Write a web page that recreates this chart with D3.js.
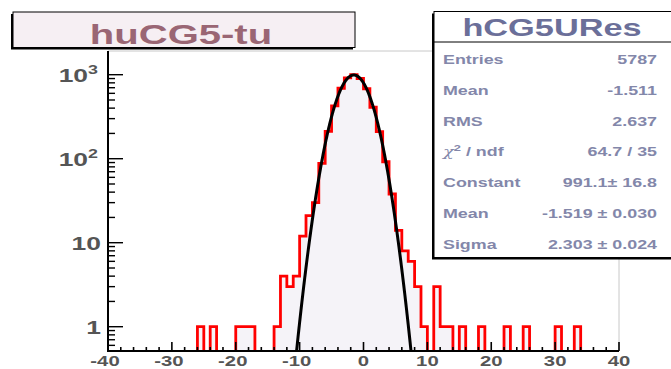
<!DOCTYPE html>
<html>
<head>
<meta charset="utf-8">
<script src="https://d3js.org/d3.v7.min.js"></script>
<style>
  body { margin: 0; background: #fff; }
  svg { display: block; font-family: "Liberation Sans", Arial, sans-serif; font-weight: bold; }
</style>
</head>
<body>
<div id="chart"></div>
<script>
// histogram: 80 bins of width 1 from -40 to 40
const xRange = [-40, 40];
const counts = [
  0, 0, 0, 0, 0, 0, 0, 0, 0, 0,      // -40 .. -31
  0, 0, 0, 0, 1, 0, 1, 0, 0, 0,      // -30 .. -21
  1, 1, 1, 0, 0, 0, 1, 4, 3, 4,      // -20 .. -11
  12, 21, 30, 88, 212, 425, 690, 918, 1000, 901,   // -10 .. -1
  680, 410, 210, 92, 38, 14, 8, 6, 3, 1,           //   0 .. 9
  0, 3, 1, 1, 0, 1, 0, 0, 1, 0,      //  10 .. 19
  0, 0, 1, 0, 0, 1, 0, 0, 0, 0,      //  20 .. 29
  1, 0, 0, 1, 0, 0, 0, 0, 0, 0       //  30 .. 39
];
// gaussian fit: constant, mean, sigma
const fitParams = [991.1, -1.519, 2.303];

const xTicks = [-40, -30, -20, -10, 0, 10, 20, 30, 40];
const yLabels = [[1000, "10", "3"], [100, "10", "2"], [10, "10", ""], [1, "1", ""]];

const statsTitle = "hCG5URes";
const statLabels = ["Entries", "Mean", "RMS", "chi2", "Constant", "Mean", "Sigma"];
const statValues = ["5787", "-1.511", "2.637", "64.7 / 35", "991.1\u00b1 16.8", "-1.519 \u00b1 0.030", "2.303 \u00b1 0.024"];
const histTitle = "huCG5-tu";

const W = 671, H = 369;
const SX = 1.43; // text in the picture is stretched horizontally
const frame = { left: 108, right: 619, top: 51, bottom: 351 };

const svg = d3.select("#chart").append("svg")
  .attr("width", W).attr("height", H);

const x = d3.scaleLinear().domain(xRange).range([frame.left, frame.right]);
const y = d3.scaleLog().domain([0.514, 1915]).range([frame.bottom, frame.top]);

svg.append("clipPath").attr("id", "clip")
  .append("rect")
  .attr("x", frame.left).attr("y", frame.top)
  .attr("width", frame.right - frame.left).attr("height", frame.bottom - frame.top);

// frame (light grey top / right)
svg.append("path")
  .attr("d", `M${frame.left},${frame.top}H${frame.right}V${frame.bottom}`)
  .attr("fill", "none").attr("stroke", "#c8c8c8").attr("stroke-width", 1);

// histogram step outline
const yb = frame.bottom + 2;
const yv = c => c > 0 ? y(c) : yb;
let d = `M${x(xRange[0])},${yb}`;
counts.forEach((c, i) => {
  const lo = xRange[0] + i, hi = lo + 1;
  d += `L${x(lo)},${yv(c)}L${x(hi)},${yv(c)}`;
});
d += `L${x(xRange[1])},${yb}`;

const g = svg.append("g").attr("clip-path", "url(#clip)");
g.append("path").attr("d", d + "Z").attr("fill", "#f5f3f8").attr("stroke", "none");
g.append("path").attr("d", d).attr("fill", "none")
  .attr("stroke", "#ff0000").attr("stroke-width", 2.8).attr("stroke-linejoin", "miter");

// fit curve
const [C, mu, sig] = fitParams;
const gauss = v => C * Math.exp(-((v - mu) * (v - mu)) / (2 * sig * sig));
const fx = d3.range(-14, 11.001, 0.05);
const line = d3.line()
  .x(v => x(v))
  .y(v => Math.min(yb + 5, y(Math.max(gauss(v), 0.3))));
g.append("path").datum(fx).attr("d", line)
  .attr("fill", "none").attr("stroke", "#000").attr("stroke-width", 3);

// axes
svg.append("line")
  .attr("x1", frame.left).attr("x2", frame.left)
  .attr("y1", frame.top).attr("y2", frame.bottom + 1)
  .attr("stroke", "#000").attr("stroke-width", 2);
svg.append("line")
  .attr("x1", frame.left - 1).attr("x2", frame.right)
  .attr("y1", frame.bottom).attr("y2", frame.bottom)
  .attr("stroke", "#000").attr("stroke-width", 2.2);

// y ticks
const yt = y.ticks().filter(t => t >= y.domain()[0] && t <= y.domain()[1]);
svg.append("g").selectAll("line").data(yt).join("line")
  .attr("x1", frame.left)
  .attr("x2", t => frame.left + (Math.abs(Math.log10(t) % 1) < 1e-9 ? 15 : 7))
  .attr("y1", t => y(t)).attr("y2", t => y(t))
  .attr("stroke", "#000").attr("stroke-width", 1.4);

// x ticks every 2, major every 10
const xt = d3.range(xRange[0], xRange[1] + 1, 2);
svg.append("g").selectAll("line").data(xt).join("line")
  .attr("x1", v => x(v)).attr("x2", v => x(v))
  .attr("y1", frame.bottom)
  .attr("y2", v => frame.bottom - (v % 10 === 0 ? 9 : 4))
  .attr("stroke", "#000").attr("stroke-width", 1.6);

// y labels
const yl = svg.append("g").attr("fill", "#555");
yLabels.forEach(([v, base, sup]) => {
  const t = yl.append("text")
    .attr("transform", `translate(${sup ? 98 : 101},${y(v) + 7}) scale(${SX},1)`)
    .attr("text-anchor", "end").attr("font-size", 18.5);
  t.append("tspan").text(base);
  if (sup) t.append("tspan").attr("dy", -8).attr("font-size", 12.5).text(sup);
});

// x labels
svg.append("g").attr("fill", "#555").selectAll("text").data(xTicks).join("text")
  .attr("transform", v => `translate(${x(v) - (v < 0 ? 3 : 0)},366) scale(1.4,1)`)
  .attr("text-anchor", "middle").attr("font-size", 14.5)
  .text(v => v);

// title box
svg.append("rect").attr("x", 11).attr("y", 14).attr("width", 342).attr("height", 35.5).attr("fill", "#000");
svg.append("rect").attr("x", 13).attr("y", 12).attr("width", 342).attr("height", 35.5)
  .attr("fill", "#f6eff3").attr("stroke", "#000").attr("stroke-width", 1);
svg.append("text")
  .attr("transform", `translate(181,43.5) scale(${SX},1)`)
  .attr("text-anchor", "middle").attr("font-size", 28).attr("fill", "#9a6674")
  .text(histTitle);

// stats box
const sb = { x: 434, y: 11.5, w: 250, h: 246 };
svg.append("rect").attr("x", sb.x - 2).attr("y", sb.y + 2).attr("width", sb.w).attr("height", sb.h).attr("fill", "#000");
svg.append("rect").attr("x", sb.x).attr("y", sb.y).attr("width", sb.w).attr("height", sb.h)
  .attr("fill", "#fff").attr("stroke", "#000").attr("stroke-width", 1);
svg.append("line").attr("x1", sb.x).attr("x2", W).attr("y1", 42).attr("y2", 42)
  .attr("stroke", "#000").attr("stroke-width", 1);
svg.append("text")
  .attr("transform", `translate(552,36) scale(${SX},1)`)
  .attr("text-anchor", "middle").attr("font-size", 24).attr("fill", "#6b6f99")
  .text(statsTitle);

const rowY = d3.scaleLinear().domain([0, 6]).range([64, 248.5]);
const sg = svg.append("g").attr("fill", "#8387aa").attr("font-size", 12.5);
statLabels.forEach((s, i) => {
  const t = sg.append("text").attr("transform", `translate(443,${rowY(i)}) scale(${SX},1)`);
  if (s === "chi2") {
    t.append("tspan").attr("font-family", "DejaVu Serif").attr("font-style", "italic").attr("font-weight", "normal").text("\u03c7");
    t.append("tspan").attr("dy", -5).attr("font-size", 9).text("2");
    t.append("tspan").attr("dy", 5).text(" / ndf");
  } else {
    t.text(s);
  }
});
statValues.forEach((s, i) => {
  sg.append("text").attr("transform", `translate(657,${rowY(i)}) scale(${SX},1)`)
    .attr("text-anchor", "end").text(s);
});
</script>
</body>
</html>
